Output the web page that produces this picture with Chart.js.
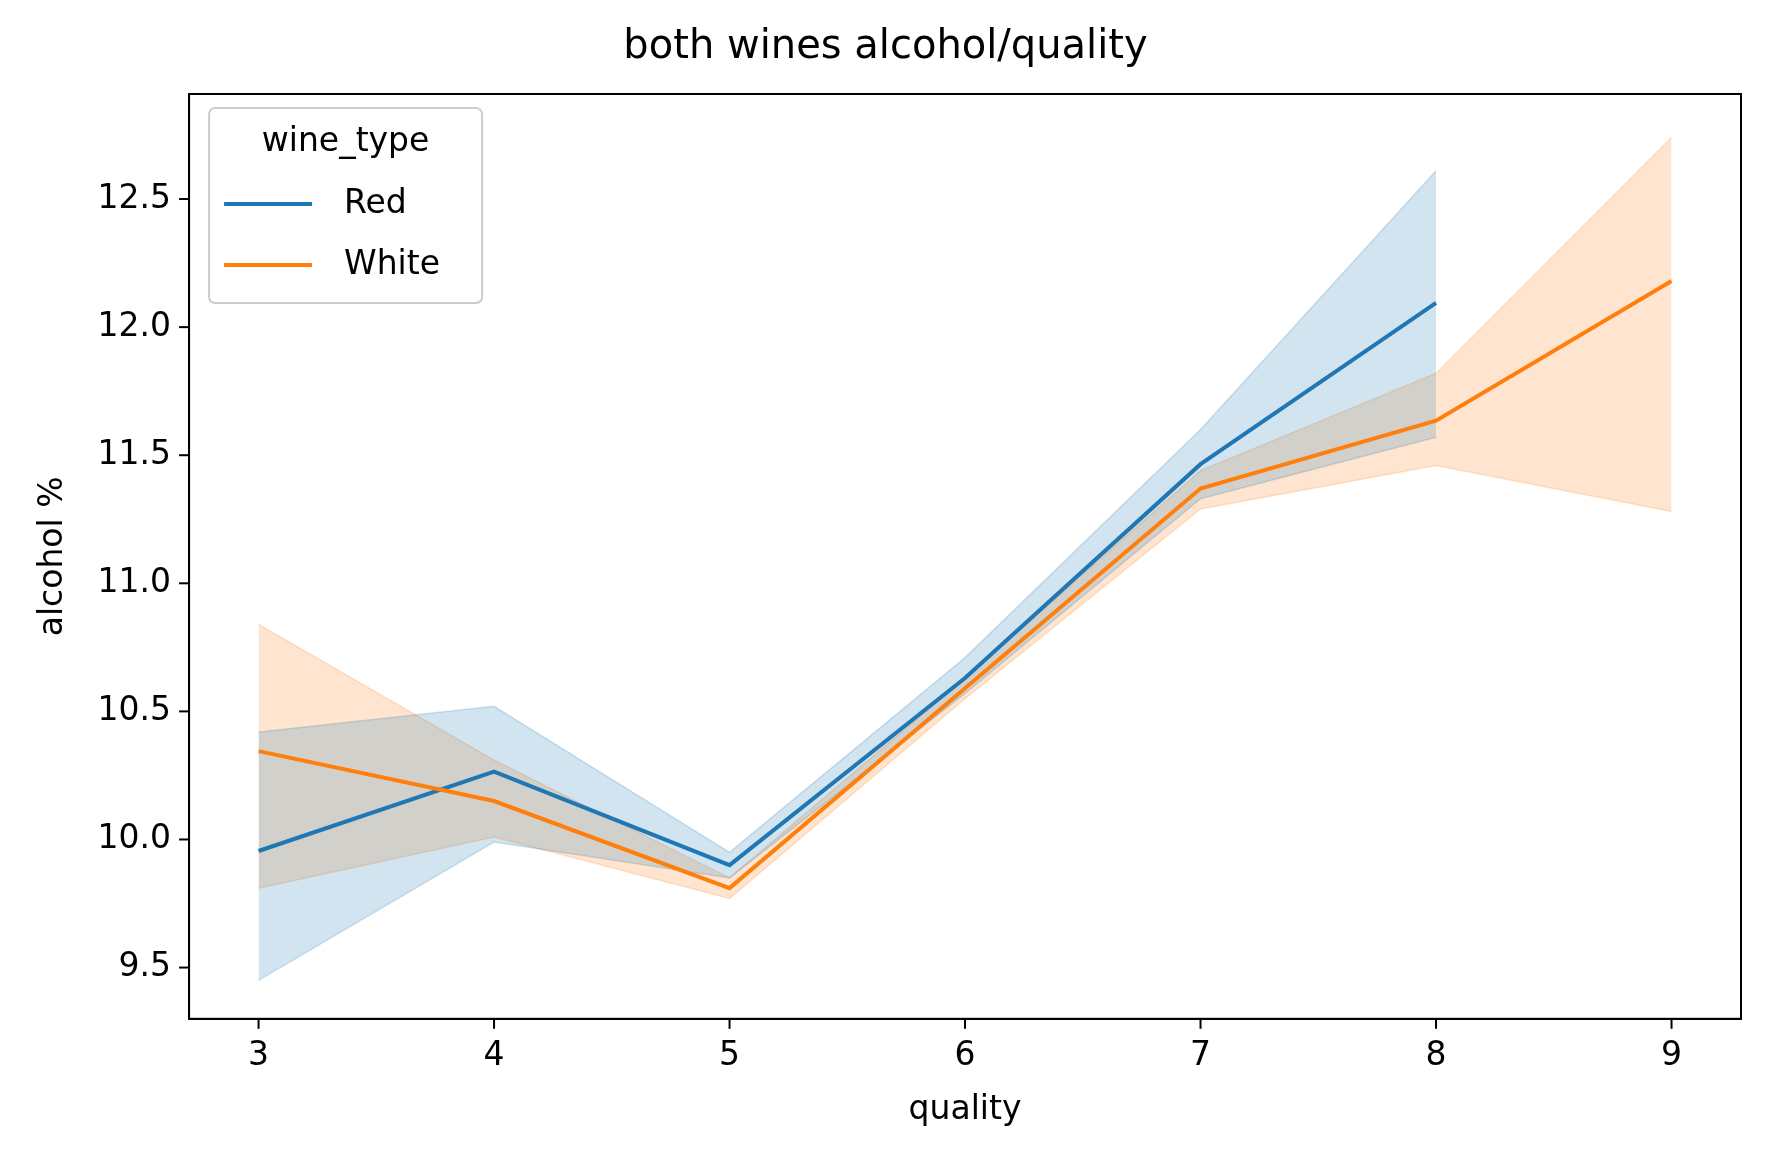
<!DOCTYPE html>
<html><head>
<script src="https://cdn.jsdelivr.net/npm/chart.js@4"></script>
<style>body{margin:0;background:#fff}#wrap{width:1769px;height:1170px}</style>
</head><body>
<div id="wrap"><canvas id="c" width="1769" height="1170"></canvas></div>
<script>
// values
const redQuality = [3, 4, 5, 6, 7, 8];
const redMean = [9.955, 10.265, 9.90, 10.63, 11.465, 12.095];
const redLow = [9.45, 9.99, 9.85, 10.57, 11.33, 11.57];
const redHigh = [10.42, 10.52, 9.95, 10.71, 11.60, 12.61];

const whiteQuality = [3, 4, 5, 6, 7, 8, 9];
const whiteMean = [10.345, 10.15, 9.81, 10.59, 11.37, 11.635, 12.18];
const whiteLow = [9.81, 10.01, 9.77, 10.55, 11.29, 11.46, 11.28];
const whiteHigh = [10.84, 10.31, 9.85, 10.63, 11.44, 11.82, 12.74];

const yTicks = [9.5, 10.0, 10.5, 11.0, 11.5, 12.0, 12.5];

const pts = (xs, ys) => xs.map((x, i) => ({ x: x, y: ys[i] }));
const F = "DejaVu Sans";

const band = (xs, ys, color, fill) => ({
  data: pts(xs, ys), borderColor: color, borderWidth: 1.5, pointRadius: 0,
  backgroundColor: fill, fill: fill ? "+1" : false, order: 5
});

// legend inside the plot, matplotlib style
const legendBox = {
  id: "legendBox",
  afterDraw(chart) {
    const ctx = chart.ctx, a = chart.chartArea;
    const x = a.left + 20, y = a.top + 14, w = 273, h = 195;
    ctx.save();
    ctx.fillStyle = "rgba(255,255,255,0.8)";
    ctx.strokeStyle = "#ccc";
    ctx.lineWidth = 2;
    ctx.beginPath();
    ctx.roundRect(x, y, w, h, 6);
    ctx.fill(); ctx.stroke();
    ctx.fillStyle = "#000";
    ctx.font = "33px " + F;
    ctx.textBaseline = "middle";
    ctx.textAlign = "center";
    ctx.fillText("wine_type", x + w / 2, y + 34);
    ctx.textAlign = "left";
    [["Red", "#1f77b4"], ["White", "#ff7f0e"]].forEach((e, i) => {
      const ly = y + 96 + i * 61;
      ctx.strokeStyle = e[1]; ctx.lineWidth = 4;
      ctx.beginPath(); ctx.moveTo(x + 15, ly); ctx.lineTo(x + 103, ly); ctx.stroke();
      ctx.fillText(e[0], x + 135, ly);
    });
    ctx.restore();
  }
};

new Chart(document.getElementById("c"), {
  type: "line",
  data: {
    datasets: [
      band(redQuality, redHigh, "rgba(31,119,180,0.2)", "rgba(31,119,180,0.2)"),
      band(redQuality, redLow, "rgba(31,119,180,0.2)", null),
      band(whiteQuality, whiteHigh, "rgba(255,127,14,0.2)", "rgba(255,127,14,0.2)"),
      band(whiteQuality, whiteLow, "rgba(255,127,14,0.2)", null),
      { label: "Red", data: pts(redQuality, redMean), borderColor: "#1f77b4", borderWidth: 4, pointRadius: 0, fill: false, order: 1 },
      { label: "White", data: pts(whiteQuality, whiteMean), borderColor: "#ff7f0e", borderWidth: 4, pointRadius: 0, fill: false, order: 0 }
    ]
  },
  options: {
    responsive: false,
    animation: false,
    devicePixelRatio: 1,
    layout: { padding: { left: 30, right: 28, top: 0, bottom: 36 } },
    plugins: {
      legend: { display: false },
      tooltip: { enabled: false },
      title: { display: true, text: "both wines alcohol/quality", color: "#000",
        font: { family: F, size: 40, weight: "normal" }, padding: { top: 24, bottom: 22 } }
    },
    scales: {
      x: {
        type: "linear", min: 2.705, max: 9.295,
        afterBuildTicks: s => { s.ticks = whiteQuality.map(v => ({ value: v })); },
        grid: { display: false },
        border: { color: "#000", width: 2 },
        ticks: { color: "#000", font: { family: F, size: 33 }, padding: 10 },
        title: { display: true, text: "quality", color: "#000", font: { family: F, size: 33 } }
      },
      y: {
        min: 9.3, max: 12.91,
        afterBuildTicks: s => { s.ticks = yTicks.map(v => ({ value: v })); },
        grid: { display: false },
        border: { color: "#000", width: 2 },
        ticks: { color: "#000", font: { family: F, size: 33 }, padding: 10, callback: v => v.toFixed(1) },
        title: { display: true, text: "alcohol %", color: "#000", font: { family: F, size: 33 }, padding: { bottom: 14 } }
      }
    }
  },
  plugins: [legendBox, {
    id: "frame",
    afterDraw(chart) {
      const c = chart.ctx, a = chart.chartArea;
      c.save(); c.strokeStyle = "#000"; c.lineWidth = 2;
      c.strokeRect(a.left, a.top, a.right - a.left, a.bottom - a.top);
      whiteQuality.forEach(v => { const px = chart.scales.x.getPixelForValue(v);
        c.beginPath(); c.moveTo(px, a.bottom); c.lineTo(px, a.bottom + 10); c.stroke(); });
      yTicks.forEach(v => { const py = chart.scales.y.getPixelForValue(v);
        c.beginPath(); c.moveTo(a.left, py); c.lineTo(a.left - 10, py); c.stroke(); });
      c.restore();
    }
  }]
});
</script>
</body></html>
